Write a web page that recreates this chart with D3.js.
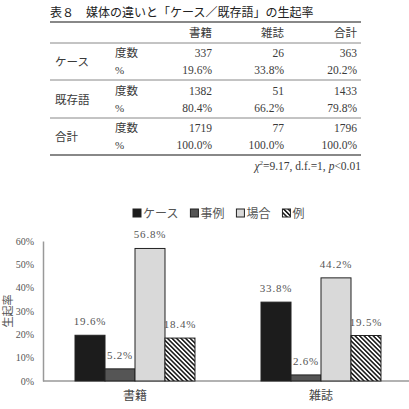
<!DOCTYPE html>
<html>
<head>
<meta charset="utf-8">
<script src="https://cdn.jsdelivr.net/npm/d3@7"></script>
<style>
  body { margin: 0; background: #fff; }
  svg { display: block; }
  text { font-family: "Liberation Serif", "DejaVu Serif", "Noto Sans CJK JP", serif; fill: #3a3a3a; }
</style>
</head>
<body>
<script>
// table data
let tableTitle = "表８　媒体の違いと「ケース／既存語」の生起率";
let tableCols = ["書籍", "雑誌", "合計"];
let tableRows = ["ケース", "既存語", "合計"];
let tableCounts = [[337, 26, 363], [1382, 51, 1433], [1719, 77, 1796]];
let tablePcts = [["19.6%", "33.8%", "20.2%"], ["80.4%", "66.2%", "79.8%"], ["100.0%", "100.0%", "100.0%"]];

// chart data
let categories = ["書籍", "雑誌"];
let seriesNames = ["ケース", "事例", "場合", "例"];
let seriesValues = [[19.6, 33.8], [5.2, 2.6], [56.8, 44.2], [18.4, 19.5]];
let yTicks = [0, 10, 20, 30, 40, 50, 60];
let yTitle = "生起率";

let w = 409, h = 409;
let svg = d3.select("body").append("svg").attr("width", w).attr("height", h);

let defs = svg.append("defs");
let pat = defs.append("pattern")
    .attr("id", "hatch")
    .attr("patternUnits", "userSpaceOnUse")
    .attr("width", 3.2).attr("height", 3.2)
    .attr("patternTransform", "rotate(-45)");
pat.append("rect").attr("width", 3.2).attr("height", 3.2).attr("fill", "#fff");
pat.append("line").attr("x1", 0.8).attr("y1", 0).attr("x2", 0.8).attr("y2", 3.2)
    .attr("stroke", "#111").attr("stroke-width", 1.5);

// ---- table ----
let t = svg.append("g");
t.append("text").attr("x", 50).attr("y", 17).style("font-size", "12px")
    .style("fill", "#222").text(tableTitle);

let rules = [[22, 1.8], [43, 1], [80, 1], [118, 1], [155, 1.8]];
rules.forEach(r => {
    t.append("line").attr("x1", 50).attr("x2", 361).attr("y1", r[0]).attr("y2", r[0])
        .attr("stroke", "#888").attr("stroke-width", r[1]);
});

let colX = [212, 284, 357];
tableCols.forEach((c, i) => {
    t.append("text").attr("x", colX[i]).attr("y", 37).attr("text-anchor", "end")
        .style("font-size", "11.5px").text(c);
});

let rowY = [57, 95, 132];
tableRows.forEach((r, i) => {
    let y = rowY[i];
    t.append("text").attr("x", 55).attr("y", y + 9).style("font-size", "11.5px").text(r);
    t.append("text").attr("x", 115).attr("y", y).style("font-size", "11.5px").text("度数");
    t.append("text").attr("x", 115).attr("y", y + 17).style("font-size", "11px").text("%");
    tableCounts[i].forEach((v, j) => {
        t.append("text").attr("x", colX[j]).attr("y", y).attr("text-anchor", "end")
            .style("font-size", "11.5px").text(v);
        t.append("text").attr("x", colX[j]).attr("y", y + 17).attr("text-anchor", "end")
            .style("font-size", "11.5px").text(tablePcts[i][j]);
    });
});

let chi = t.append("text").attr("x", 361).attr("y", 170).attr("text-anchor", "end")
    .style("font-size", "11.5px");
chi.append("tspan").style("font-style", "italic").text("χ");
chi.append("tspan").attr("dy", -5).style("font-size", "7px").text("2");
chi.append("tspan").attr("dy", 5).text("=9.17,  d.f.=1,  ");
chi.append("tspan").style("font-style", "italic").text("p");
chi.append("tspan").text("<0.01");

// ---- chart ----
let x0 = d3.scaleBand().domain(categories).range([42, 414]).paddingInner(0.355).paddingOuter(0.1775);
let x1 = d3.scaleBand().domain(seriesNames).range([0, x0.bandwidth()]);
let y = d3.scaleLinear().domain([0, 60]).range([381, 241]);

let fills = ["#1c1c1c", "#555", "#d9d9d9", "url(#hatch)"];

// axes
let yAxis = svg.append("g").attr("transform", "translate(43,0)")
    .call(d3.axisLeft(y).tickValues(yTicks).tickSize(0).tickPadding(9).tickFormat(d => d + "%"));
yAxis.select(".domain").attr("stroke", "#999").attr("stroke-width", 1.5);
yAxis.selectAll("text").style("font-size", "10px").style("fill", "#555")
    .style("font-family", "'Liberation Serif', serif");

let xAxis = svg.append("g").attr("transform", "translate(0,381)")
    .call(d3.axisBottom(x0).tickSize(0).tickPadding(10));
xAxis.select(".domain").attr("d", "M43,0H409").attr("stroke", "#999").attr("stroke-width", 1.5);
xAxis.selectAll("text").style("font-size", "12px").style("fill", "#444")
    .style("font-family", "'Noto Sans CJK JP', sans-serif");

// bars
seriesNames.forEach((s, si) => {
    let g = svg.append("g");
    categories.forEach((c, ci) => {
        let v = seriesValues[si][ci];
        g.append("rect")
            .attr("x", x0(c) + x1(s))
            .attr("y", y(v))
            .attr("width", x1.bandwidth())
            .attr("height", y(0) - y(v))
            .attr("fill", fills[si])
            .attr("stroke", "#222").attr("stroke-width", 1);
        g.append("text")
            .attr("x", x0(c) + x1(s) + x1.bandwidth() / 2)
            .attr("y", y(v) - 10)
            .attr("text-anchor", "middle")
            .style("font-size", "11px").style("fill", "#555").style("letter-spacing", "0.8px")
            .text(v.toFixed(1) + "%");
    });
});

// y title
svg.append("text").attr("transform", "translate(12,311) rotate(-90)")
    .attr("text-anchor", "middle").style("font-size", "11px").style("fill", "#555")
    .text(yTitle);

// legend
let lg = svg.append("g").attr("transform", "translate(133,209)");
let lx = 0;
seriesNames.forEach((s, i) => {
    let item = lg.append("g").attr("transform", `translate(${lx},0)`);
    item.append("rect").attr("width", 8).attr("height", 8).attr("fill", fills[i])
        .attr("stroke", "#222").attr("stroke-width", 1);
    let tx = item.append("text").attr("x", 10).attr("y", 9).style("font-size", "12px").style("fill", "#555")
        .style("font-family", "'Noto Sans CJK JP', sans-serif").text(s);
    lx += 10 + tx.node().getComputedTextLength() + 12;
});
</script>
</body>
</html>
